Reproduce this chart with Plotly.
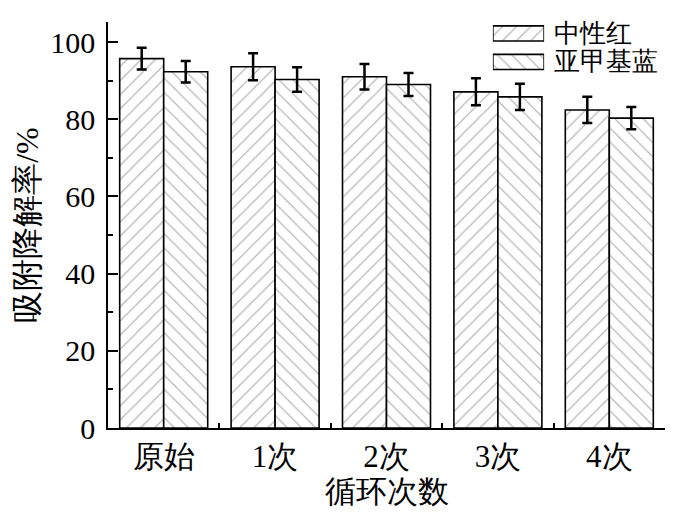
import plotly.graph_objects as go

# data
cycles = ["原始", "1次", "2次", "3次", "4次"]
neutral_red = [95.7, 93.6, 91.0, 87.1, 82.4]
neutral_red_err = [2.8, 3.5, 3.3, 3.5, 3.4]
methylene_blue = [92.3, 90.3, 89.0, 85.8, 80.3]
methylene_blue_err = [2.8, 3.2, 3.0, 3.4, 2.9]

series_names = ["中性红", "亚甲基蓝"]
legend_rows = [1, 0]

FONT = "Liberation Serif, Times New Roman, serif"
hatch_color = "#6e6e6e"


def bar_style(shape):
    return dict(
        color="white",
        line=dict(color="black", width=1.6),
        pattern=dict(shape=shape, fgcolor=hatch_color, bgcolor="white",
                     size=10, solidity=0.12),
    )


err_style = dict(type="data", color="black", thickness=2.5, width=5)

fig = go.Figure()
fig.add_trace(go.Bar(
    x=cycles, y=neutral_red, name=series_names[0],
    marker=bar_style("/"),
    error_y=dict(array=neutral_red_err, **err_style),
    showlegend=False,
))
fig.add_trace(go.Bar(
    x=cycles, y=methylene_blue, name=series_names[1],
    marker=bar_style("\\"),
    error_y=dict(array=methylene_blue_err, **err_style),
    showlegend=False,
))

# legend drawn as hatched swatches on a small overlay axis
for name, row, shape in zip(series_names, legend_rows, ["/", "\\"]):
    fig.add_trace(go.Bar(
        x=[1], y=[row], orientation="h", width=0.53,
        xaxis="x2", yaxis="y2", marker=bar_style(shape),
        showlegend=False, hoverinfo="skip",
    ))
    fig.add_annotation(
        text=name, x=0.797, xref="paper", y=row, yref="y2",
        xanchor="left", yanchor="middle", showarrow=False,
        font=dict(family=FONT, size=26, color="black"),
    )

# page body adds an 8px offset, so the figure is sized to fit inside the window
fig.update_layout(
    width=692, height=504,
    margin=dict(l=100, r=35, t=14, b=84),
    plot_bgcolor="rgba(0,0,0,0)", paper_bgcolor="white",
    barmode="group", bargap=0.21, bargroupgap=0,
    font=dict(family=FONT, color="black"),
    xaxis=dict(
        type="category", range=[-0.5, 4.5], automargin=False,
        showline=True, linecolor="black", linewidth=1.6,
        ticks="inside", tickson="boundaries", ticklen=5, tickwidth=1.5,
        tickcolor="black", showgrid=False,
        tickfont=dict(family=FONT, size=31),
        title=dict(text="循环次数", font=dict(family=FONT, size=31), standoff=0),
    ),
    yaxis=dict(
        range=[0, 105.2], tickvals=[0, 20, 40, 60, 80, 100], automargin=False,
        showline=True, linecolor="black", linewidth=1.6,
        ticks="inside", ticklen=10, tickwidth=1.5, tickcolor="black",
        minor=dict(dtick=10, ticks="inside", ticklen=5, tickwidth=1.5,
                   tickcolor="black", showgrid=False),
        showgrid=False, zeroline=False, ticklabelstandoff=5,
        tickfont=dict(family=FONT, size=30),
        title=dict(text="吸附降解率/%", font=dict(family=FONT, size=32), standoff=2),
    ),
    xaxis2=dict(domain=[0.691, 0.783], range=[0, 1], anchor="y2",
                visible=False, fixedrange=True),
    yaxis2=dict(domain=[0.8, 1.0], range=[-1.45, 1.40], anchor="x2",
                visible=False, fixedrange=True),
)

fig.write_html("out.html")
